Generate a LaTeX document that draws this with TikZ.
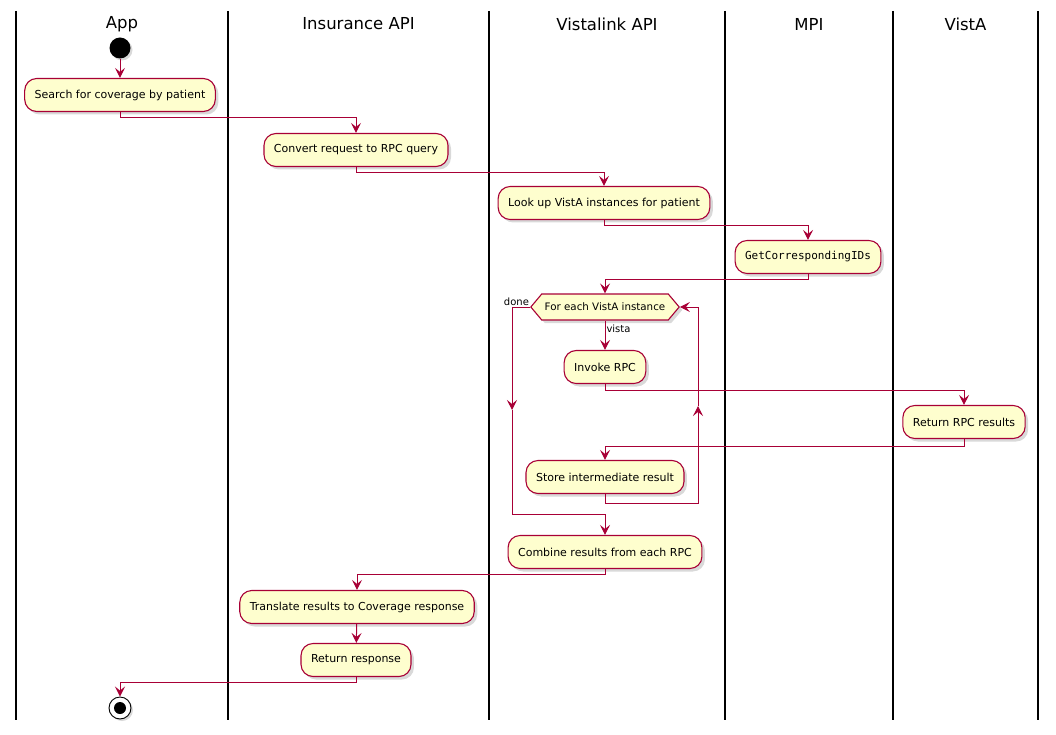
\documentclass[tikz,border=0pt]{standalone}
\usepackage{fontspec}
\setmainfont{DejaVu Sans}
\setmonofont{DejaVu Sans Mono}
\usetikzlibrary{arrows.meta, shapes.symbols, shadows}
\definecolor{actFill}{RGB}{254, 254, 206}
\definecolor{actLine}{RGB}{168, 0,   54}

\begin{document}
\begin{tikzpicture}[x=1pt, y=-1pt,
  lane/.style={draw=black, line width=1.4pt},
  lanetitle/.style={font=\fontsize{16.5}{19}\selectfont},
  activity/.style={draw=actLine, line width=1.1pt, fill=actFill, rounded corners=12pt,
    minimum height=33pt, inner xsep=10pt, font=\fontsize{11}{13}\selectfont,
    drop shadow={opacity=0.3, shadow xshift=3pt, shadow yshift=-3pt}},
  loopbox/.style={signal, signal to=west and east, signal pointer angle=100,
    draw=actLine, line width=1.1pt, fill=actFill, minimum height=26pt, inner xsep=3pt,
    font=\fontsize{10.3}{12}\selectfont,
    drop shadow={opacity=0.3, shadow xshift=3pt, shadow yshift=-3pt}},
  flow/.style={draw=actLine, line width=1pt, -{Stealth[length=10pt, width=10pt, inset=4pt]}},
  guard/.style={font=\fontsize{10}{12}\selectfont, inner sep=1pt}]

  \useasboundingbox (0,0) rectangle (1056,735);

  % swimlanes
  \foreach \lx in {16, 228, 489, 725, 893, 1038}
    \draw[lane] (\lx,11) -- (\lx,720);

  \node[lanetitle] (tApp)  at (122,24)   {App};
  \node[lanetitle] (tIns)  at (358.5,24) {Insurance API};
  \node[lanetitle] (tVl)   at (607,24)   {Vistalink API};
  \node[lanetitle] (tMpi)  at (809,24)   {MPI};
  \node[lanetitle] (tVsta) at (965.5,24) {VistA};

  % activities
  \node[circle, fill=black, minimum size=21pt, inner sep=0pt,
    drop shadow={opacity=0.3, shadow xshift=2pt, shadow yshift=-2pt}] (start) at (120,48) {};
  \node[activity] (search)    at (120,95)  {Search for coverage by patient};
  \node[activity] (convert)   at (356,150) {Convert request to RPC query};
  \node[activity] (lookup)    at (604,203) {Look up VistA instances for patient};
  \node[activity] (getids)    at (808,257) {\texttt{GetCorrespondingIDs}};
  \node[loopbox]  (loop)      at (605,307) {For each VistA instance};
  \node[activity] (invoke)    at (605,367) {Invoke RPC};
  \node[activity] (results)   at (964,422) {Return RPC results};
  \node[activity] (store)     at (605,477) {Store intermediate result};
  \node[activity] (combine)   at (605,552) {Combine results from each RPC};
  \node[activity] (translate) at (357,607) {Translate results to Coverage response};
  \node[activity] (respond)   at (356,660) {Return response};
  \node[circle, draw=black, line width=0.9pt, fill=white, minimum size=22pt, inner sep=0pt,
    drop shadow={opacity=0.3, shadow xshift=2pt, shadow yshift=-2pt}] (stop) at (120,708) {};
  \node[circle, fill=black, minimum size=12pt, inner sep=0pt] (stopDot) at (stop) {};

  \coordinate (doneMid) at (512,410);
  \coordinate (backMid) at (698,406);

  % flows
  \draw[flow] (start) -- (search);
  \draw[flow] (search.south) -- ++(0,5) -| (convert.north);
  \draw[flow] (convert.south) -- ++(0,5) -| (lookup.north);
  \draw[flow] (lookup.south) -- ++(0,5) -| (getids.north);
  \draw[flow] (getids.south) -- ++(0,5) -| (loop.north);
  \draw[flow] (loop.south) -- (invoke.north)
    node[guard, pos=0.1, anchor=north west] (lVista) {vista};
  \draw[flow] (invoke.south) -- ++(0,6) -| (results.north);
  \draw[flow] (results.south) -- ++(0,7) -| (store.north);
  \draw[flow] (store.south) -- ++(0,9) -| (backMid);
  \draw[flow] (backMid) |- (loop.east);
  \draw[flow] (loop.west) -| (doneMid);
  \node[guard, anchor=south east] (lDone) at (loop.west) {done};
  \draw[flow] (doneMid) |- ([yshift=20pt]combine.north) -- (combine.north);
  \draw[flow] (combine.south) -- ++(0,5) -| (translate.north);
  \draw[flow] (translate) -- (respond);
  \draw[flow] (respond.south) -- ++(0,5) -| (stop.north);
\end{tikzpicture}
\end{document}
